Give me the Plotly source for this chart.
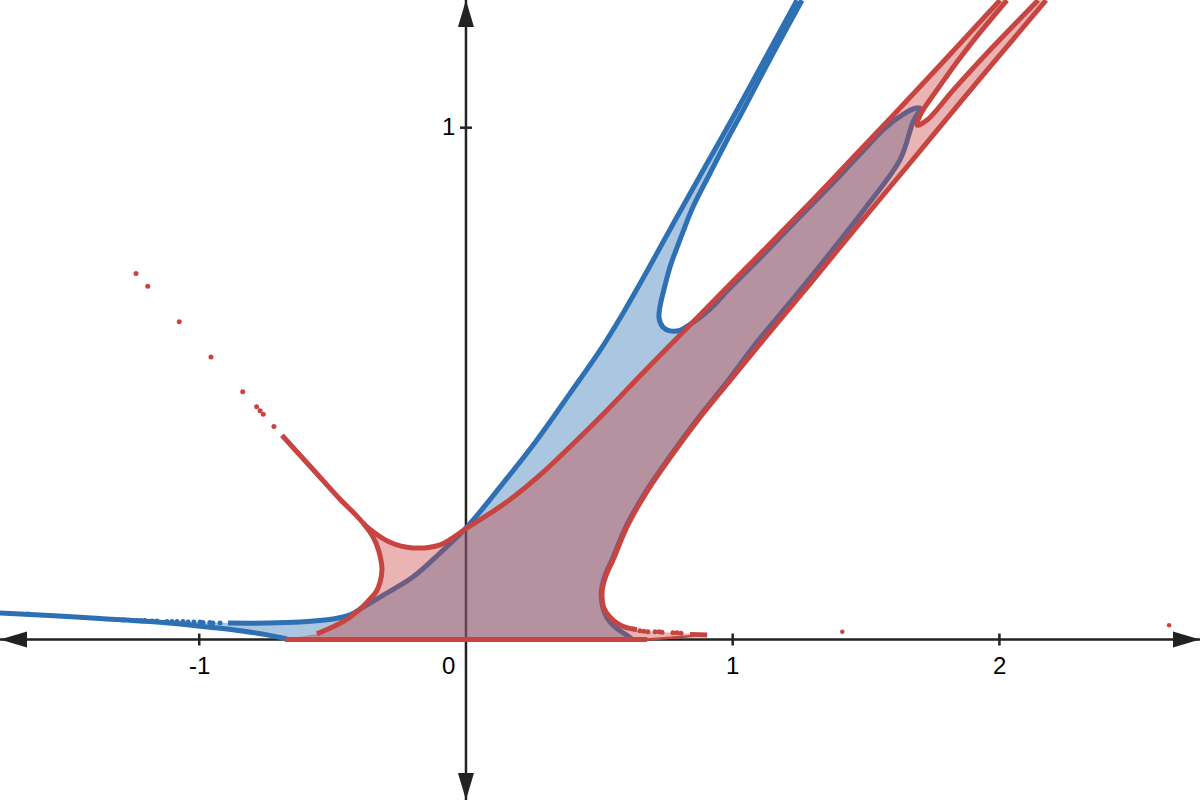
import plotly.graph_objects as go

# ---------------- data (in axis units) ----------------
X_RANGE = [-1.747, 2.752]
Y_RANGE = [-0.3136, 1.2495]

x_tick_vals = [-1, 0, 1, 2]
x_tick_text = ["-1", "0", "1", "2"]
y_tick_vals = [1]
y_tick_text = ["1"]

# blue: outer branch (top -> left)
blue_outer_x = [1.241, 1.125, 1.016, 0.896, 0.784, 0.675, 0.596, 0.510, 0.390, 0.266, 0.146, 0.004,
                -0.097, -0.199, -0.322, -0.386, -0.435, -0.499, -0.622, -0.746, -0.892]
blue_outer_y = [1.249, 1.138, 1.034, 0.923, 0.819, 0.716, 0.644, 0.571, 0.481, 0.390, 0.310, 0.220,
                0.169, 0.122, 0.083, 0.063, 0.048, 0.040, 0.034, 0.032, 0.032]
# blue: dotted continuation of the outer branch
blue_dots_x = [-1.642, -1.436, -1.286, -1.234, -1.219, -1.204, -1.177, -1.159, -1.121, -1.102,
               -1.083, -1.061, -1.042, -1.020, -0.997, -0.986, -0.960, -0.949, -0.922]
blue_dots_y = [0.050, 0.043, 0.038, 0.037, 0.037, 0.037, 0.036, 0.036, 0.035, 0.035,
               0.035, 0.035, 0.034, 0.034, 0.034, 0.033, 0.033, 0.032, 0.032]
# blue: lower left branch
blue_lower_x = [-1.747, -1.560, -1.372, -1.185, -0.997, -0.874, -0.746, -0.671]
blue_lower_y = [0.052, 0.047, 0.041, 0.035, 0.026, 0.019, 0.009, 0.001]
# blue: inner branch (top -> U -> tip -> right side -> axis)
blue_inner_x = [1.260, 1.144, 1.039, 0.979, 0.915, 0.851, 0.806, 0.765, 0.742, 0.727, 0.724, 0.739,
                0.765, 0.802, 0.847, 0.889, 0.934, 0.979, 1.102, 1.226, 1.354, 1.477, 1.571, 1.639,
                1.684, 1.702, 1.676, 1.627, 1.500, 1.365, 1.222, 1.097, 0.975, 0.865, 0.768, 0.678,
                0.603, 0.547, 0.525, 0.511, 0.507, 0.513, 0.529, 0.559, 0.596, 0.622]
blue_inner_y = [1.249, 1.138, 1.034, 0.976, 0.911, 0.845, 0.786, 0.728, 0.683, 0.649, 0.628, 0.610,
                0.603, 0.604, 0.618, 0.634, 0.655, 0.681, 0.745, 0.812, 0.880, 0.948, 0.999, 1.026,
                1.038, 1.038, 1.011, 0.937, 0.845, 0.755, 0.663, 0.585, 0.501, 0.429, 0.360, 0.292,
                0.224, 0.155, 0.130, 0.106, 0.087, 0.063, 0.042, 0.024, 0.011, 0.001]

# red: upper branch (top -> U -> cusp)
red_upper_x = [2.002, 1.871, 1.729, 1.601, 1.477, 1.354, 1.226, 1.102, 0.979, 0.877, 0.776, 0.652,
               0.529, 0.401, 0.277, 0.154, 0.004, -0.097, -0.199, -0.285, -0.371, -0.386]
red_upper_y = [1.249, 1.175, 1.095, 1.024, 0.956, 0.888, 0.819, 0.753, 0.688, 0.634, 0.581, 0.515,
               0.448, 0.382, 0.321, 0.269, 0.218, 0.185, 0.179, 0.190, 0.220, 0.228]
# red: diagonal from cusp to upper left (solid part, then dots)
red_diag_x = [-0.386, -0.416, -0.472, -0.547, -0.622, -0.690]
red_diag_y = [0.228, 0.245, 0.274, 0.317, 0.360, 0.399]
red_diag_dots_x = [-1.237, -1.193, -1.075, -0.956, -0.837, -0.785, -0.772, -0.760, -0.720]
red_diag_dots_y = [0.715, 0.690, 0.621, 0.552, 0.484, 0.455, 0.447, 0.440, 0.416]
# red: left branch (cusp -> bottom)
red_left_x = [-0.386, -0.360, -0.337, -0.322, -0.315, -0.322, -0.337, -0.367, -0.405, -0.457, -0.559]
red_left_y = [0.228, 0.210, 0.188, 0.163, 0.136, 0.112, 0.093, 0.075, 0.056, 0.036, 0.011]
# red: along the x axis and the thin tail
red_axis_x = [-0.679, 0.679, 0.904]
red_axis_y = [0.0, 0.0, 0.009]
red_tail_x = [0.840, 0.904]
red_tail_y = [0.010, 0.009]
red_tail_dots_x = [0.652, 0.667, 0.682, 0.709, 0.724, 0.735, 0.776, 0.791, 0.806]
red_tail_dots_y = [0.017, 0.016, 0.015, 0.015, 0.015, 0.014, 0.013, 0.013, 0.012]
# red: right branch (top -> bottom)
red_right_x = [2.175, 2.010, 1.860, 1.665, 1.455, 1.279, 1.114, 0.982, 0.870, 0.772, 0.682, 0.607,
               0.551, 0.529, 0.514, 0.510, 0.517, 0.536, 0.566, 0.596, 0.641]
red_right_y = [1.249, 1.147, 1.054, 0.931, 0.800, 0.688, 0.585, 0.501, 0.429, 0.360, 0.292, 0.224,
               0.155, 0.130, 0.106, 0.087, 0.062, 0.046, 0.032, 0.024, 0.019]
# red: V near the top right (right arm top -> tip -> left arm top)
red_v_x = [2.145, 1.954, 1.826, 1.729, 1.691, 1.706, 1.740, 1.792, 1.852, 1.935, 2.028]
red_v_y = [1.249, 1.146, 1.073, 1.015, 1.005, 1.028, 1.055, 1.093, 1.136, 1.191, 1.249]
# red: isolated points
red_pts_x = [1.411, 2.636]
red_pts_y = [0.015, 0.028]

# ---------------- styles ----------------
BLUE = "#2d70b3"
RED = "#c74440"
BLUE_FILL = "rgba(45,112,179,0.4)"
RED_FILL = "rgba(199,68,64,0.4)"
AXIS = "#222222"
LW = 5

fig = go.Figure()


def add_line(x, y, color, width=LW):
    fig.add_trace(go.Scatter(x=x, y=y, mode="lines",
                             line=dict(color=color, width=width, shape="spline", smoothing=1.0),
                             hoverinfo="skip", showlegend=False))


def add_dots(x, y, color, size=5):
    fig.add_trace(go.Scatter(x=x, y=y, mode="markers",
                             marker=dict(color=color, size=size, line=dict(width=0)),
                             hoverinfo="skip", showlegend=False))


def add_fill(x, y, color):
    fig.add_trace(go.Scatter(x=x, y=y, mode="lines", fill="toself", fillcolor=color,
                             line=dict(width=0), hoverinfo="skip", showlegend=False))


# blue region
bfx = blue_outer_x + blue_dots_x[::-1] + blue_lower_x + blue_inner_x[::-1]
bfy = blue_outer_y + blue_dots_y[::-1] + blue_lower_y + blue_inner_y[::-1]
add_fill(bfx, bfy, BLUE_FILL)
add_line(blue_outer_x, blue_outer_y, BLUE)
add_line(blue_lower_x, blue_lower_y, BLUE)
add_line(blue_inner_x, blue_inner_y, BLUE)
add_dots(blue_dots_x, blue_dots_y, BLUE)

# red region
rfx = (red_axis_x + red_tail_x[:-1][::-1] + red_tail_dots_x[::-1] + red_right_x[::-1]
       + red_v_x + red_upper_x + red_left_x[1:])
rfy = (red_axis_y + red_tail_y[:-1][::-1] + red_tail_dots_y[::-1] + red_right_y[::-1]
       + red_v_y + red_upper_y + red_left_y[1:])
add_fill(rfx, rfy, RED_FILL)
add_line(red_upper_x, red_upper_y, RED)
add_line(red_diag_x, red_diag_y, RED)
add_line(red_left_x, red_left_y, RED)
add_line(red_axis_x[:2], red_axis_y[:2], RED)
add_line(red_axis_x[1:], red_axis_y[1:], RED, width=2.5)
add_line(red_tail_x, red_tail_y, RED)
add_line(red_right_x, red_right_y, RED)
add_line(red_v_x, red_v_y, RED)
add_dots(red_diag_dots_x, red_diag_dots_y, RED)
add_dots(red_tail_dots_x, red_tail_dots_y, RED)
add_dots(red_pts_x, red_pts_y, RED, size=4.5)

# axes, arrows, ticks, labels
shapes = [
    dict(type="line", x0=X_RANGE[0], x1=X_RANGE[1], y0=0, y1=0, layer="below",
         line=dict(color=AXIS, width=2.5)),
    dict(type="line", x0=0, x1=0, y0=Y_RANGE[0], y1=Y_RANGE[1], layer="below",
         line=dict(color=AXIS, width=2.5)),
]
arrow_specs = [
    (X_RANGE[1], 0, "M 0 0 L -27 8 L -27 -8 Z"),
    (X_RANGE[0], 0, "M 0 0 L 27 8 L 27 -8 Z"),
    (0, Y_RANGE[1], "M 0 0 L -8 -27 L 8 -27 Z"),
    (0, Y_RANGE[0], "M 0 0 L -8 27 L 8 27 Z"),
]
for ax_, ay_, p in arrow_specs:
    shapes.append(dict(type="path", xsizemode="pixel", ysizemode="pixel", xanchor=ax_, yanchor=ay_,
                       path=p, fillcolor=AXIS, line=dict(width=0), layer="below"))
for v in x_tick_vals:
    if v != 0:
        shapes.append(dict(type="line", x0=v, x1=v, ysizemode="pixel", yanchor=0, y0=-6, y1=6,
                           line=dict(color=AXIS, width=2.5), layer="below"))
for v in y_tick_vals:
    shapes.append(dict(type="line", y0=v, y1=v, xsizemode="pixel", xanchor=0, x0=-6, x1=6,
                       line=dict(color=AXIS, width=2.5), layer="below"))

annotations = []
FONT = dict(family="Liberation Sans, Arial, sans-serif", size=24, color="#000000")
for v, t in zip(x_tick_vals, x_tick_text):
    if v == 0:
        annotations.append(dict(x=v, y=0, text=t, showarrow=False, xanchor="right", yanchor="top",
                                xshift=-9, yshift=-10, font=FONT))
    else:
        annotations.append(dict(x=v, y=0, text=t, showarrow=False, xanchor="center", yanchor="top",
                                yshift=-10, font=FONT))
for v, t in zip(y_tick_vals, y_tick_text):
    annotations.append(dict(x=0, y=v, text=t, showarrow=False, xanchor="right", yanchor="middle",
                            xshift=-9, yshift=1, font=FONT))

fig.update_layout(
    width=1200, height=800,
    margin=dict(l=0, r=0, t=0, b=0, pad=0),
    paper_bgcolor="white", plot_bgcolor="white",
    xaxis=dict(range=X_RANGE, visible=False, fixedrange=True),
    yaxis=dict(range=Y_RANGE, visible=False, fixedrange=True),
    showlegend=False,
    shapes=shapes,
    annotations=annotations,
)

fig.write_html(
    "out.html",
    config={"displayModeBar": False},
    post_script="document.body.style.margin='0';document.body.style.padding='0';"
                "document.body.style.overflow='hidden';",
)
